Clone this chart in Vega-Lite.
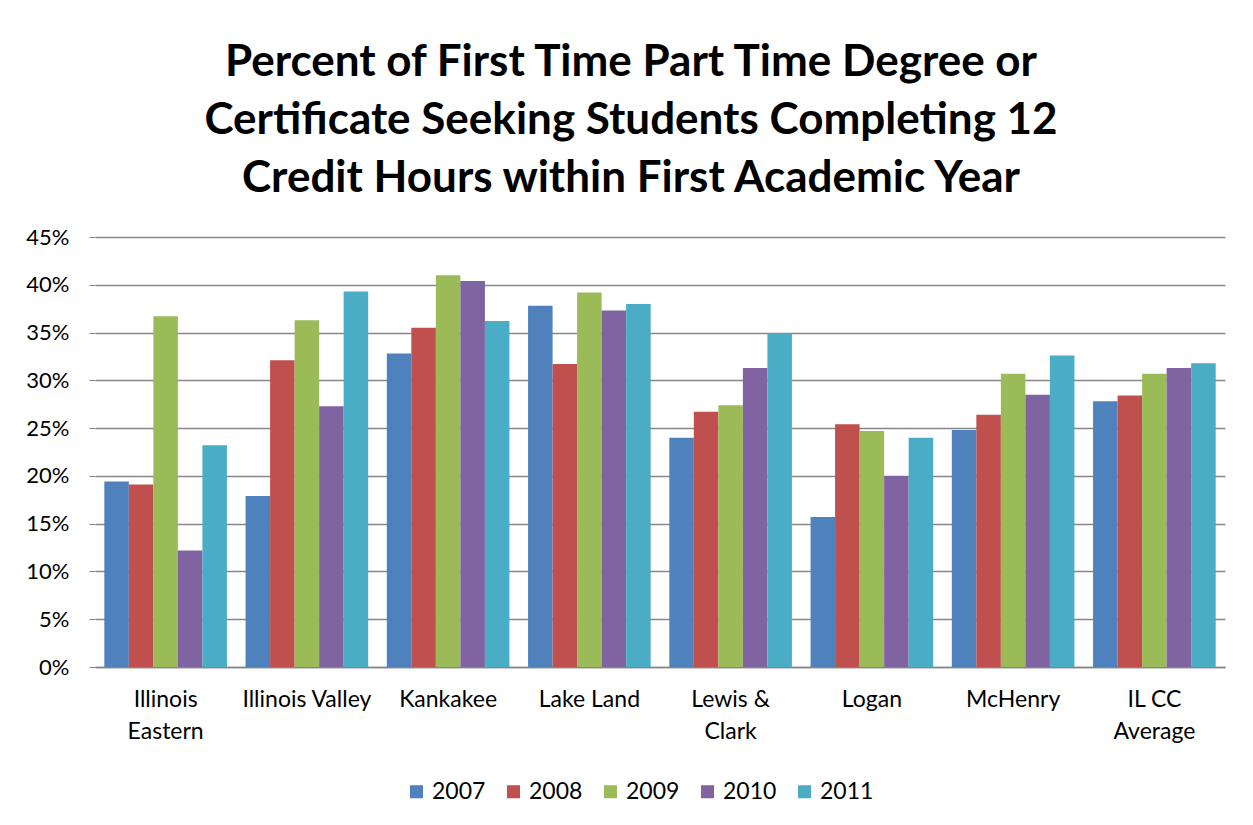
{
  "$schema": "https://vega.github.io/schema/vega-lite/v6.json",
  "autosize": "none",
  "width": 1130,
  "height": 430,
  "padding": {"left": 95, "top": 237, "right": 28, "bottom": 158},
  "background": "white",
  "title": {
    "text": ["Percent of First Time Part Time Degree or", "Certificate Seeking Students Completing 12", "Credit Hours within First Academic Year"],
    "font": "Lato",
    "fontSize": 44,
    "fontWeight": "bold",
    "color": "#000000",
    "lineHeight": 58,
    "anchor": "middle",
    "frame": "group",
    "dx": -29,
    "offset": 25
  },
  "data": {
    "values": [
      {"college": "Illinois|Eastern", "year": "2007", "pct": 19.4},
      {"college": "Illinois|Eastern", "year": "2008", "pct": 19.1},
      {"college": "Illinois|Eastern", "year": "2009", "pct": 36.7},
      {"college": "Illinois|Eastern", "year": "2010", "pct": 12.2},
      {"college": "Illinois|Eastern", "year": "2011", "pct": 23.2},
      {"college": "Illinois Valley", "year": "2007", "pct": 17.9},
      {"college": "Illinois Valley", "year": "2008", "pct": 32.1},
      {"college": "Illinois Valley", "year": "2009", "pct": 36.3},
      {"college": "Illinois Valley", "year": "2010", "pct": 27.3},
      {"college": "Illinois Valley", "year": "2011", "pct": 39.3},
      {"college": "Kankakee", "year": "2007", "pct": 32.8},
      {"college": "Kankakee", "year": "2008", "pct": 35.5},
      {"college": "Kankakee", "year": "2009", "pct": 41.0},
      {"college": "Kankakee", "year": "2010", "pct": 40.4},
      {"college": "Kankakee", "year": "2011", "pct": 36.2},
      {"college": "Lake Land", "year": "2007", "pct": 37.8},
      {"college": "Lake Land", "year": "2008", "pct": 31.7},
      {"college": "Lake Land", "year": "2009", "pct": 39.2},
      {"college": "Lake Land", "year": "2010", "pct": 37.3},
      {"college": "Lake Land", "year": "2011", "pct": 38.0},
      {"college": "Lewis &|Clark", "year": "2007", "pct": 24.0},
      {"college": "Lewis &|Clark", "year": "2008", "pct": 26.7},
      {"college": "Lewis &|Clark", "year": "2009", "pct": 27.4},
      {"college": "Lewis &|Clark", "year": "2010", "pct": 31.3},
      {"college": "Lewis &|Clark", "year": "2011", "pct": 34.9},
      {"college": "Logan", "year": "2007", "pct": 15.7},
      {"college": "Logan", "year": "2008", "pct": 25.4},
      {"college": "Logan", "year": "2009", "pct": 24.7},
      {"college": "Logan", "year": "2010", "pct": 20.0},
      {"college": "Logan", "year": "2011", "pct": 24.0},
      {"college": "McHenry", "year": "2007", "pct": 24.8},
      {"college": "McHenry", "year": "2008", "pct": 26.4},
      {"college": "McHenry", "year": "2009", "pct": 30.7},
      {"college": "McHenry", "year": "2010", "pct": 28.5},
      {"college": "McHenry", "year": "2011", "pct": 32.6},
      {"college": "IL CC|Average", "year": "2007", "pct": 27.8},
      {"college": "IL CC|Average", "year": "2008", "pct": 28.4},
      {"college": "IL CC|Average", "year": "2009", "pct": 30.7},
      {"college": "IL CC|Average", "year": "2010", "pct": 31.3},
      {"college": "IL CC|Average", "year": "2011", "pct": 31.8}
    ]
  },
  "mark": {"type": "bar"},
  "encoding": {
    "x": {
      "field": "college",
      "type": "nominal",
      "sort": null,
      "scale": {"paddingInner": 0.132, "paddingOuter": 0.066},
      "axis": {
        "title": null,
        "labelAngle": 0,
        "labelExpr": "split(datum.value, '|')",
        "labelFont": "Lato",
        "labelFontSize": 23,
        "labelColor": "#000000",
        "labelLineHeight": 32,
        "labelPadding": 21,
        "labelBaseline": "top",
        "ticks": false,
        "domainColor": "#868686",
        "domainWidth": 1.5
      }
    },
    "xOffset": {"field": "year", "type": "nominal"},
    "y": {
      "field": "pct",
      "type": "quantitative",
      "scale": {"domain": [0, 45], "nice": false},
      "axis": {
        "title": null,
        "values": [0, 5, 10, 15, 20, 25, 30, 35, 40, 45],
        "labelExpr": "datum.value + '%'",
        "labelFont": "Lato",
        "labelFontSize": 22,
        "labelColor": "#000000",
        "labelPadding": 20,
        "domain": false,
        "ticks": true,
        "tickSize": 6,
        "tickColor": "#868686",
        "gridColor": "#868686",
        "gridWidth": 1.5
      }
    },
    "color": {
      "field": "year",
      "type": "nominal",
      "scale": {
        "domain": ["2007", "2008", "2009", "2010", "2011"],
        "range": ["#4F81BD", "#C0504D", "#9BBB59", "#8064A2", "#4BACC6"]
      },
      "legend": {
        "title": null,
        "orient": "none",
        "legendX": 310,
        "legendY": 543,
        "direction": "horizontal",
        "symbolType": "square",
        "symbolSize": 170,
        "symbolStrokeWidth": 0,
        "labelFont": "Lato",
        "labelFontSize": 23,
        "labelColor": "#000000",
        "labelOffset": 4,
        "columnPadding": 16
      }
    }
  },
  "config": {"view": {"stroke": null}}
}
